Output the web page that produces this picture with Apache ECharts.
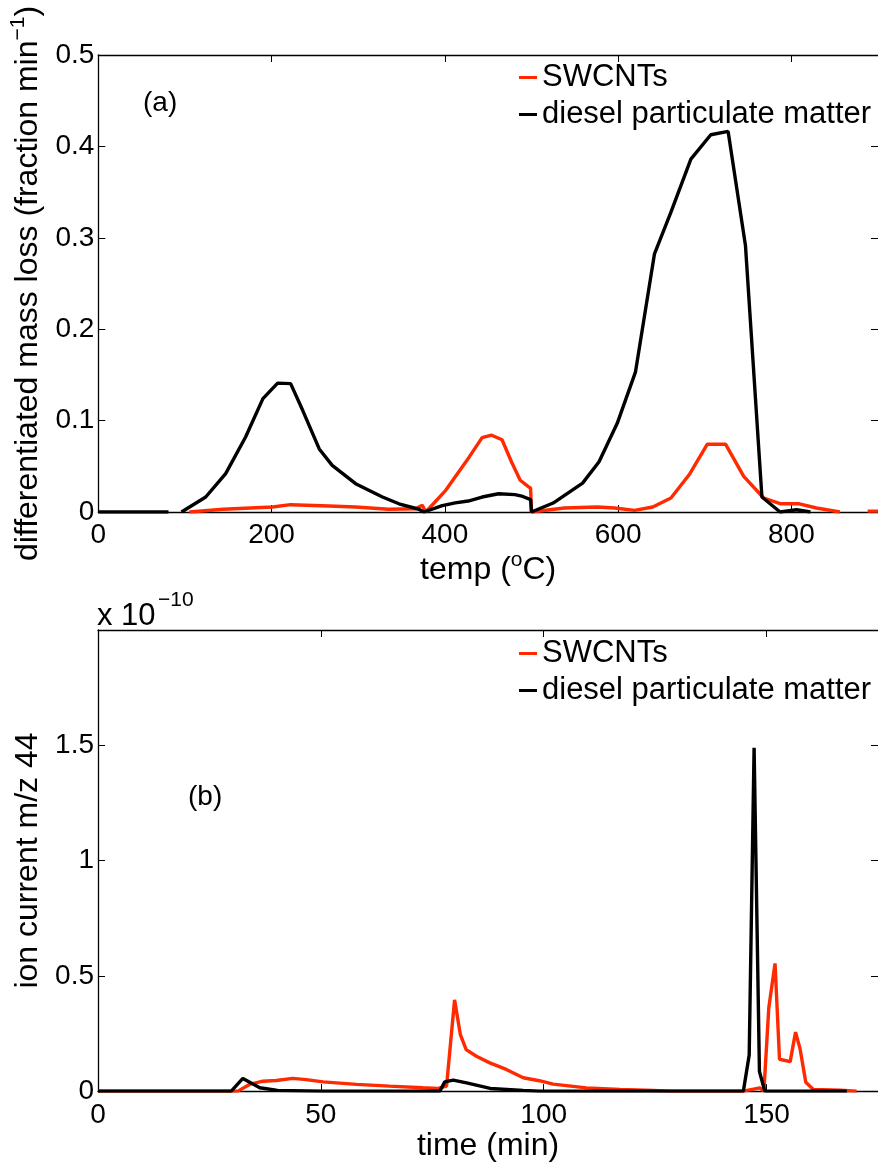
<!DOCTYPE html>
<html>
<head>
<meta charset="utf-8">
<script src="https://cdn.jsdelivr.net/npm/echarts@6/dist/echarts.min.js"></script>
<style>html,body{margin:0;padding:0;background:#fff;}#c{width:878px;height:1163px;}</style>
</head>
<body>
<div id="c"></div>
<script>
// ---- Panel (a): differentiated mass loss vs temperature ----
const tempTicks = [0, 200, 400, 600, 800];
const swTemp = [105, 144, 201, 222, 266, 297, 335, 366, 374, 378, 401, 428, 443, 454, 466, 477, 487, 496, 499, 500, 538, 576, 596, 619, 640, 661, 682, 703, 724, 745, 768, 787, 808, 829, 856, 870, 888, 900];
const swLoss = [0, 0.003, 0.0055, 0.008, 0.0066, 0.0055, 0.003, 0.0036, 0.0073, 0, 0.0237, 0.060, 0.0814, 0.084, 0.079, 0.0547, 0.0347, 0.028, 0.026, 0, 0.0044, 0.0055, 0.0044, 0.0018, 0.0055, 0.0153, 0.0407, 0.0742, 0.0742, 0.039, 0.0153, 0.0091, 0.0091, 0.0044, 0, null, 0.001, 0.001];
const dpmTemp = [0, 81, 88, 96, 124, 147, 170, 190, 207, 222, 236, 255, 270, 297, 328, 347, 370, 376, 397, 412, 427, 443, 462, 481, 490, 499, 500, 525, 559, 578, 599, 620, 642, 661, 684, 707, 727, 747, 766, 787, 806, 822];
const dpmLoss = [0, 0, null, 0, 0.0164, 0.042, 0.082, 0.124, 0.141, 0.1405, 0.111, 0.069, 0.051, 0.031, 0.0164, 0.009, 0.003, 0, 0.007, 0.010, 0.012, 0.0164, 0.020, 0.019, 0.017, 0.0135, 0, 0.0098, 0.0316, 0.055, 0.097, 0.153, 0.2825, 0.328, 0.386, 0.4127, 0.4164, 0.2916, 0.0164, 0, 0.0025, 0];

// ---- Panel (b): ion current m/z 44 vs time (values in units of 1e-10) ----
const timeTicks = [0, 50, 100, 150];
const swTime = [0, 31.4, 34, 37, 40, 43.7, 46.7, 50.5, 58, 65.4, 72.9, 76.3, 78.2, 80, 81.3, 82.6, 84.9, 87.9, 91.6, 95.4, 99, 102.1, 109.6, 117.1, 124.6, 128.4, 144.8, 148.5, 149.4, 150.5, 151.9, 152.9, 155.3, 156.5, 157.5, 158.8, 160.5, 166.5, 170.2];
const swIon = [0, 0, 0.029, 0.043, 0.046, 0.055, 0.050, 0.040, 0.029, 0.0216, 0.0144, 0.0115, 0.0216, 0.396, 0.245, 0.18, 0.151, 0.1225, 0.094, 0.058, 0.045, 0.03, 0.014, 0.007, 0.003, 0, 0, 0.014, 0, 0.362, 0.554, 0.138, 0.128, 0.256, 0.185, 0.038, 0.007, 0.004, 0];
const dpmTime = [0, 29.9, 32.5, 36.3, 40.3, 50.5, 76.7, 77.8, 79.7, 82.7, 88, 95.4, 99.1, 144.8, 146.1, 147.2, 148.4, 149.6, 168];
const dpmIon = [0, 0, 0.055, 0.0144, 0.003, 0, 0, 0.04, 0.0475, 0.036, 0.0115, 0.003, 0, 0, 0.156, 1.489, 0.085, 0, 0];

const seriesNames = ['SWCNTs', 'diesel particulate matter'];
const RED = '#ff2a00';
const FONT = 'Liberation Sans';
const FS_TICK = 28;
const FS_TITLE = 32;
const FS_LEG = 31;

function pairs(xs, ys) {
  return xs.map((x, i) => [x, ys[i] === null ? '-' : ys[i]]);
}

const chart = echarts.init(document.getElementById('c'), null, {renderer: 'canvas'});

const axisLine = {show: true, onZero: false, lineStyle: {color: '#000', width: 1.3}};
const noLine = {show: false, onZero: false};
const tickIn = {show: true, inside: true, length: 7, lineStyle: {color: '#000', width: 1}};
const tickLbl = {color: '#000', fontSize: FS_TICK, fontFamily: FONT};
const titleLbl = {color: '#000', fontSize: FS_TITLE, fontFamily: FONT};
const legLbl = {color: '#000', fontSize: FS_LEG, fontFamily: FONT};
const supRich = {sup: {fontSize: 21, fontFamily: FONT, color: '#000', padding: [0, 0, 20, 0]}};

const option = {
  animation: false,
  backgroundColor: '#fff',
  grid: [
    {left: 98, top: 55, width: 781, height: 457},
    {left: 98, top: 630, width: 781, height: 468}
  ],
  xAxis: [
    {type: 'value', gridIndex: 0, min: 0, max: 900, interval: 200, position: 'bottom',
     axisLine, axisTick: tickIn, splitLine: {show: false},
     axisLabel: Object.assign({margin: 9, showMaxLabel: false}, tickLbl),
     name: 'temp ({sup|o}C)', nameLocation: 'middle', nameGap: 38,
     nameTextStyle: Object.assign({rich: supRich}, titleLbl)},
    {type: 'value', gridIndex: 0, min: 0, max: 900, interval: 200, position: 'top',
     axisLine, axisTick: tickIn, splitLine: {show: false}, axisLabel: {show: false}},
    {type: 'value', gridIndex: 1, min: 0, max: 175, interval: 50, position: 'bottom',
     axisLine, axisTick: tickIn, splitLine: {show: false},
     axisLabel: Object.assign({margin: 10, showMaxLabel: false}, tickLbl),
     name: 'time (min)', nameLocation: 'middle', nameGap: 27,
     nameTextStyle: titleLbl},
    {type: 'value', gridIndex: 1, min: 0, max: 175, interval: 50, position: 'top',
     axisLine, axisTick: tickIn, splitLine: {show: false}, axisLabel: {show: false}}
  ],
  yAxis: [
    {type: 'value', gridIndex: 0, min: 0, max: 0.5, interval: 0.1, position: 'left',
     axisLine, axisTick: tickIn, splitLine: {show: false},
     axisLabel: Object.assign({margin: 4}, tickLbl),
     name: 'differentiated mass loss (fraction min{sup|−1})', nameLocation: 'middle', nameGap: 44,
     nameTextStyle: Object.assign({rich: supRich}, titleLbl)},
    {type: 'value', gridIndex: 0, min: 0, max: 0.5, interval: 0.1, position: 'right',
     axisLine: noLine, axisTick: tickIn, splitLine: {show: false}, axisLabel: {show: false}},
    {type: 'value', gridIndex: 1, min: 0, max: 2, interval: 0.5, position: 'left',
     axisLine, axisTick: tickIn, splitLine: {show: false},
     axisLabel: Object.assign({margin: 4, showMaxLabel: false}, tickLbl),
     name: 'ion current m/z 44', nameLocation: 'middle', nameGap: 44,
     nameTextStyle: titleLbl},
    {type: 'value', gridIndex: 1, min: 0, max: 2, interval: 0.5, position: 'right',
     axisLine: noLine, axisTick: tickIn, splitLine: {show: false}, axisLabel: {show: false}}
  ],
  legend: [
    {data: seriesNames, orient: 'vertical', left: 519, top: 62, padding: 0, itemGap: 6, itemWidth: 18, itemHeight: 3,
     icon: 'rect', selectedMode: false, textStyle: legLbl},
    {data: seriesNames, orient: 'vertical', left: 519, top: 638, padding: 0, itemGap: 6, itemWidth: 18, itemHeight: 3,
     icon: 'rect', selectedMode: false, textStyle: legLbl}
  ],
  graphic: [
    {type: 'text', left: 143, top: 89, style: {text: '(a)', font: FS_TICK + 'px ' + FONT, fill: '#000'}},
    {type: 'text', left: 188, top: 783, style: {text: '(b)', font: FS_TICK + 'px ' + FONT, fill: '#000'}},
    {type: 'text', left: 97, top: 601, style: {text: 'x 10', font: FS_LEG + 'px ' + FONT, fill: '#000'}},
    {type: 'text', left: 158, top: 590, style: {text: '−10', font: '21px ' + FONT, fill: '#000'}}
  ],
  series: [
    {name: seriesNames[0], type: 'line', xAxisIndex: 0, yAxisIndex: 0, data: pairs(swTemp, swLoss),
     showSymbol: false, color: RED, lineStyle: {color: RED, width: 3.4}, connectNulls: false},
    {name: seriesNames[1], type: 'line', xAxisIndex: 0, yAxisIndex: 0, data: pairs(dpmTemp, dpmLoss),
     showSymbol: false, color: '#000', lineStyle: {color: '#000', width: 3.4}, connectNulls: false},
    {name: seriesNames[0], type: 'line', xAxisIndex: 2, yAxisIndex: 2, data: pairs(swTime, swIon),
     showSymbol: false, color: RED, lineStyle: {color: RED, width: 3.4}},
    {name: seriesNames[1], type: 'line', xAxisIndex: 2, yAxisIndex: 2, data: pairs(dpmTime, dpmIon),
     showSymbol: false, color: '#000', lineStyle: {color: '#000', width: 3.4}}
  ]
};
chart.setOption(option);
</script>
</body>
</html>
